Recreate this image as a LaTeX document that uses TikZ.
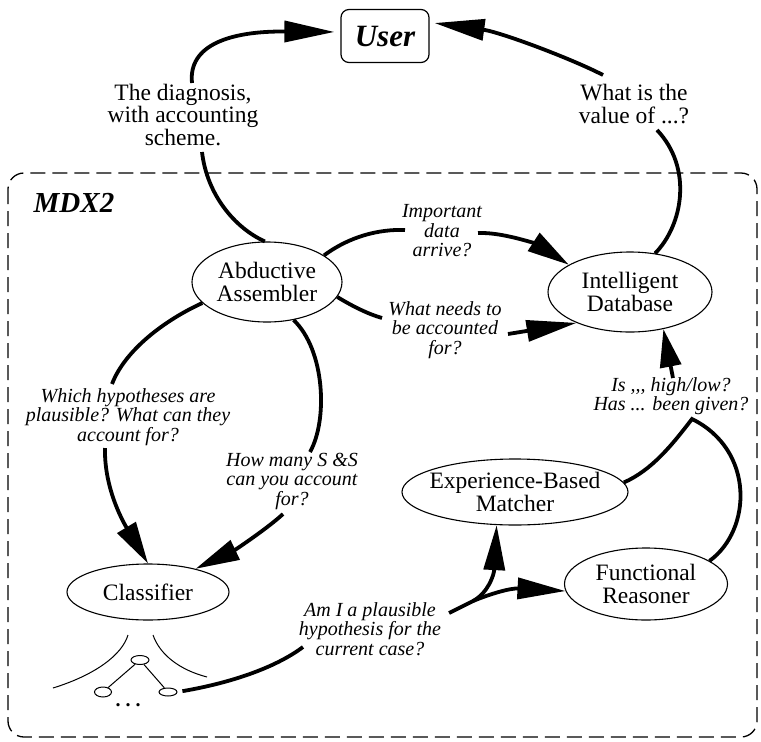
\documentclass[tikz,border=0pt]{standalone}
\usepackage{fontspec}
\setmainfont{Liberation Serif}
\usetikzlibrary{arrows.meta,shapes.geometric}

\begin{document}
\begin{tikzpicture}[x=1pt,y=-1pt,
  agent/.style={ellipse,draw,line width=1.1pt,inner sep=0pt,align=center,
    font=\fontsize{23.5}{22.5}\selectfont},
  say/.style={inner sep=1pt,align=center,font=\fontsize{23.5}{22.5}\selectfont},
  ask/.style={inner sep=1pt,align=center,font=\fontsize{20}{19.5}\selectfont\itshape},
  flow/.style={line width=3.8pt},
  pointed/.style={-{Triangle[length=#1,width=21pt]}},
  pointed/.default=42pt,
  twig/.style={line width=1pt},
  leaf/.style={ellipse,draw,line width=1pt,inner sep=0pt},
]
\useasboundingbox (0,0) rectangle (761,742);
\fill[white] (0,0) rectangle (761,742);

% the user, outside the system
\node[draw,rounded corners=8pt,line width=1.2pt,minimum width=88pt,minimum height=53pt,
  inner sep=0pt,font=\fontsize{31}{31}\selectfont\bfseries\itshape] (user) at (385,36) {User};

% system boundary
\draw[line width=1.3pt,dash pattern=on 15pt off 7pt,rounded corners=16pt]
  (8,173) rectangle (757,737);
\node[font=\fontsize{29}{29}\selectfont\bfseries\itshape] (mdx) at (74,203) {MDX2};

% problem solvers
\node[agent,minimum width=150pt,minimum height=80pt] (aa) at (267,282) {Abductive\\Assembler};
\node[agent,minimum width=164pt,minimum height=80pt] (id) at (630,292) {Intelligent\\Database};
\node[agent,minimum width=162pt,minimum height=56pt] (cl) at (148,592) {Classifier};
\node[agent,minimum width=226pt,minimum height=66pt,inner xsep=-11pt] (ebm) at (515,492) {Experience-Based\\Matcher};
\node[agent,minimum width=163pt,minimum height=72pt] (fr) at (646,584) {Functional\\Reasoner};

% messages
\node[say] (diag) at (183,115) {The diagnosis,\\with accounting\\scheme.};
\node[say] (valq) at (634,104) {What is the\\value of ...?};
\node[ask] (imp) at (442,231) {Important\\data\\arrive?};
\node[ask] (need) at (445,330) {What needs to\\be accounted\\for?};
\node[ask] (whichq) at (128,417) {Which hypotheses are\\plausible? What can they\\account for?};
\node[ask] (howq) at (292,481) {How many S \&S\\can you account\\for?};
\node[ask] (isq) at (671,396) {Is ,{},{}, high/low?\\Has ... been given?};
\node[ask] (amq) at (370,629) {Am I a plausible\\hypothesis for the\\current case?};

% classification tree below the classifier
\draw[twig] (128,635) .. controls (122,655) and (95,675) .. (53,688);
\draw[twig] (153,635) .. controls (160,655) and (180,670) .. (207,677);
\node[leaf,minimum width=18pt,minimum height=9pt] (tt) at (140,660) {};
\node[leaf,minimum width=17pt,minimum height=10pt] (tl) at (103,692) {};
\node[leaf,minimum width=18pt,minimum height=8pt] (tr) at (168,692) {};
\draw[twig] (tt) -- (tl);
\draw[twig] (tt) -- (tr);
\node[font=\fontsize{20}{20}\selectfont\bfseries,inner sep=0pt] (dots) at (128,705) {.\ .\ .};

% diagnosis to the user
\draw[flow] (aa.93) .. controls (235,228) and (207,195) .. ([xshift=19pt,yshift=-37pt]diag.center);
\draw[flow,pointed=50pt,shorten >=6pt] ([xshift=9pt,yshift=32pt]diag.center)
  .. controls (188,45) and (230,31) .. ([yshift=4pt]user.west);

% questions to the user
\draw[flow] (id.57) .. controls (683,225) and (693,168) .. ([xshift=23pt,yshift=-26pt]valq.center);
\draw[flow,pointed=50pt,shorten >=5pt] ([xshift=-31pt,yshift=29pt]valq.center)
  .. controls (570,58) and (500,32) .. (user.17);

% assembler and database
\draw[flow] (aa.25) .. controls (350,236) and (380,229) .. ([xshift=-37pt,yshift=1pt]imp.center);
\draw[flow,pointed] ([xshift=36pt,yshift=-2pt]imp.center) .. controls (505,232) and (540,246) .. (id.156);
\draw[flow] (aa.-12) .. controls (352,306) and (368,314) .. ([xshift=-63pt,yshift=12pt]need.center);
\draw[flow,pointed=50pt] ([xshift=63pt,yshift=-4pt]need.center) -- (id.-150);

% assembler and classifier
\draw[flow] (aa.198) .. controls (165,320) and (125,350) .. ([xshift=-16pt,yshift=33pt]whichq.center);
\draw[flow,pointed] ([xshift=-23pt,yshift=-31pt]whichq.center) .. controls (104,490) and (125,525) .. (cl.north);
\draw[flow] (aa.-55) .. controls (325,350) and (328,420) .. ([xshift=18pt,yshift=29pt]howq.center);
\draw[flow,pointed=44pt] ([xshift=-9pt,yshift=-33pt]howq.center) .. controls (268,528) and (235,550) .. (cl.26);

% hypotheses to the matchers
\draw[flow,shorten <=5pt] (tr.east) .. controls (230,683) and (275,668) .. ([xshift=-67pt,yshift=-18pt]amq.center);
\coordinate (split) at (473,601);
\draw[flow,pointed=45pt] ([xshift=79pt,yshift=16pt]amq.center) -- (split)
  .. controls (488,593) and (494,575) .. (ebm.241);
\draw[flow,pointed=48pt] (split) .. controls (490,594) and (510,588) .. (fr.185);

% matchers to the database
\coordinate (cusp) at ([xshift=21pt,yshift=-23pt]isq.center);
\draw[flow] (ebm.5) .. controls (652,470) and (672,445) .. (cusp)
  .. controls (755,450) and (752,530) .. (fr.20);
\draw[flow,pointed=38pt] ([xshift=2pt,yshift=18pt]isq.center) -- (id.-48);
\end{tikzpicture}
\end{document}
